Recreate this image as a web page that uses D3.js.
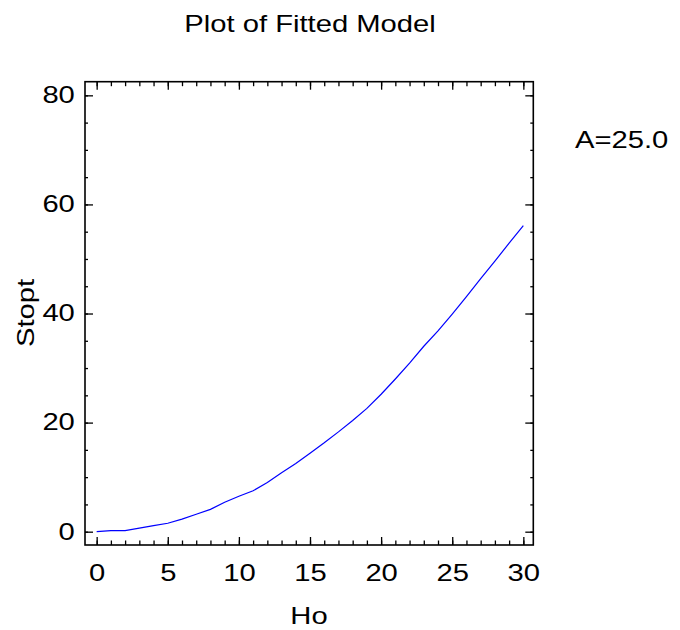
<!DOCTYPE html>
<html>
<head>
<meta charset="utf-8">
<script src="https://cdn.jsdelivr.net/npm/d3@7"></script>
<style>
  body { margin: 0; background: #fff; }
  text { font-family: "Liberation Sans", Arial, sans-serif; fill: #000; }
</style>
</head>
<body>
<svg id="chart" width="680" height="630"></svg>
<script>
// values
let ho = [0, 1, 2, 3, 4, 5, 6, 7, 8, 9, 10, 11, 12, 13, 14, 15, 16, 17, 18, 19, 20,
          21, 22, 23, 24, 25, 26, 27, 28, 29, 30]
let stopt = [0, 0.2, 0.2, 0.65, 1.1, 1.55, 2.3, 3.2, 4.1, 5.4, 6.5, 7.5, 9.0, 10.8, 12.5, 14.4,
             16.3, 18.3, 20.4, 22.6, 25.2, 28.0, 30.9, 34.0, 36.8, 39.9, 43.1, 46.4, 49.6, 52.9, 56.1]
let x_ticks = [0, 5, 10, 15, 20, 25, 30]
let y_ticks = [0, 20, 40, 60, 80]
let x_minor = d3.range(0, 31, 1)
let y_minor = d3.range(0, 81, 5)

let width = 680,
    height = 630,
    frame = {left: 85, right: 533.3, top: 81.7, bottom: 545},
    stretch = 1.27,   // reference glyphs are wider than Arial
    font_size = 23;

let svg = d3.select("#chart")

let scales = {
  x: d3.scaleLinear().domain([-0.82, 30.7]).range([frame.left, frame.right]),
  y: d3.scaleLinear().domain([-2.44, 82.5]).range([frame.bottom, frame.top])
}

function add_axes(scales) {
  let g = svg.append("g").attr("id", "axes")

  // minor ticks, all four sides, pointing inward
  g.append("g").attr("transform", `translate(0,${frame.bottom})`)
    .call(d3.axisBottom(scales.x).tickValues(x_minor).tickSize(-4.5).tickSizeOuter(0).tickFormat(""))
  g.append("g").attr("transform", `translate(0,${frame.top})`)
    .call(d3.axisTop(scales.x).tickValues(x_minor).tickSize(-4.5).tickSizeOuter(0).tickFormat(""))
  g.append("g").attr("transform", `translate(${frame.left},0)`)
    .call(d3.axisLeft(scales.y).tickValues(y_minor).tickSize(-3).tickSizeOuter(0).tickFormat(""))
  g.append("g").attr("transform", `translate(${frame.right},0)`)
    .call(d3.axisRight(scales.y).tickValues(y_minor).tickSize(-3).tickSizeOuter(0).tickFormat(""))

  // major ticks
  let x_axis = g.append("g").attr("transform", `translate(0,${frame.bottom})`)
    .call(d3.axisBottom(scales.x).tickValues(x_ticks).tickSize(-8).tickSizeOuter(0).tickPadding(20))
  g.append("g").attr("transform", `translate(0,${frame.top})`)
    .call(d3.axisTop(scales.x).tickValues(x_ticks).tickSize(-8).tickSizeOuter(0).tickFormat(""))
  let y_axis = g.append("g").attr("transform", `translate(${frame.left},0)`)
    .call(d3.axisLeft(scales.y).tickValues(y_ticks).tickSize(-8).tickSizeOuter(0).tickPadding(8))
  g.append("g").attr("transform", `translate(${frame.right},0)`)
    .call(d3.axisRight(scales.y).tickValues(y_ticks).tickSize(-8).tickSizeOuter(0).tickFormat(""))

  g.selectAll(".domain").remove()
  g.selectAll("line").attr("stroke", "#000").attr("stroke-width", 1.3)

  x_axis.selectAll("text").attr("transform", `scale(${stretch},1)`)
  y_axis.selectAll("text").attr("transform", `scale(${stretch},1)`)
  g.selectAll("text")
    .style("font-family", '"Liberation Sans", Arial, sans-serif')
    .attr("font-size", font_size)
    .attr("fill", "#000")

  // plot frame
  svg.append("rect")
    .attr("x", frame.left)
    .attr("y", frame.top)
    .attr("width", frame.right - frame.left)
    .attr("height", frame.bottom - frame.top)
    .attr("fill", "none")
    .attr("stroke", "#000")
    .attr("stroke-width", 1.6)
}

function draw_line(scales) {
  let path_generator = d3.line()
    .x((d, i) => scales.x(ho[i]))
    .y(d => scales.y(d))

  svg.append("path")
    .datum(stopt)
    .attr("d", path_generator)
    .attr("fill", "none")
    .attr("stroke", "#0000ff")
    .attr("stroke-width", 1.2)
}

function add_text(str, x, y, anchor, rotate) {
  svg.append("text")
    .attr("transform", `translate(${x},${y})` + (rotate ? ` rotate(${rotate})` : "") + ` scale(${stretch},1)`)
    .attr("text-anchor", anchor)
    .attr("font-size", font_size)
    .text(str)
}

draw_line(scales)
add_axes(scales)

add_text("Plot of Fitted Model", 310, 32, "middle")
add_text("A=25.0", 575, 148, "start")
add_text("Ho", 309, 624, "middle")
add_text("Stopt", 34, 313, "middle", -90)
</script>
</body>
</html>
